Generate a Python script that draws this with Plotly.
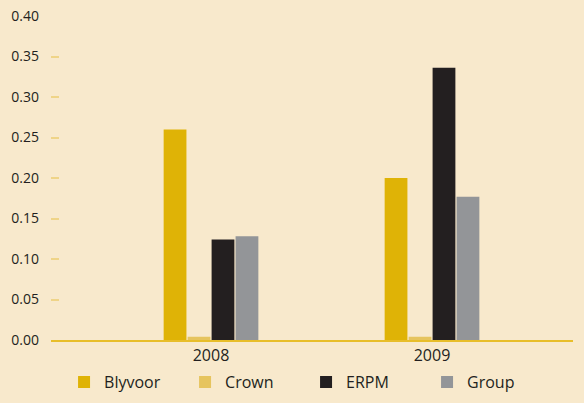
import plotly.graph_objects as go

years = ["2008", "2009"]
blyvoor = [0.260, 0.200]
crown = [0.004, 0.004]
erpm = [0.124, 0.336]
group = [0.128, 0.177]
y_ticks = [0.00, 0.05, 0.10, 0.15, 0.20, 0.25, 0.30, 0.35, 0.40]

series = [
    ("Blyvoor", blyvoor, "#DFB306"),
    ("Crown", crown, "#E6C45E"),
    ("ERPM", erpm, "#231F20"),
    ("Group", group, "#939598"),
]

x_pos = list(range(len(years)))

fig = go.Figure()
for name, vals, col in series:
    fig.add_trace(go.Bar(x=x_pos, y=vals, name=name, marker=dict(color=col, line=dict(width=0))))

W, H = 584, 403
ml, mr, mt, mb = 51, 11, 16, 63

fig.update_layout(
    width=W, height=H,
    margin=dict(l=ml, r=mr, t=mt, b=mb, pad=0, autoexpand=False),
    paper_bgcolor="#F8E9CC",
    plot_bgcolor="#F8E9CC",
    barmode="group",
    bargap=0.566,
    bargroupgap=0.05,
    font=dict(family="Open Sans", size=14, color="#231F20"),
    showlegend=True,
    legend=dict(
        orientation="h",
        x=0.025, xanchor="left",
        y=-0.13, yanchor="middle",
        font=dict(size=16, color="#231F20"),
        entrywidth=76, entrywidthmode="pixels",
        bgcolor="rgba(0,0,0,0)",
        itemclick=False,
    ),
    xaxis=dict(
        tickmode="array",
        tickvals=x_pos,
        ticktext=years,
        range=[-0.724, 1.638],
        showline=True, linecolor="#E8BE2A", linewidth=2,
        showgrid=False, zeroline=False, ticks="",
        tickfont=dict(size=16),
    ),
    yaxis=dict(
        range=[0, 0.40],
        tickvals=y_ticks,
        tickformat=".2f",
        showgrid=False, zeroline=False, showline=False,
        ticks="inside", ticklen=8, tickwidth=1.5, tickcolor="#EFD488",
        ticklabelstandoff=11,
        tickfont=dict(size=14),
    ),
)

fig.write_html(
    "out.html",
    config={"displayModeBar": False},
    post_script="document.body.style.margin='0';document.body.style.overflow='hidden';",
)
